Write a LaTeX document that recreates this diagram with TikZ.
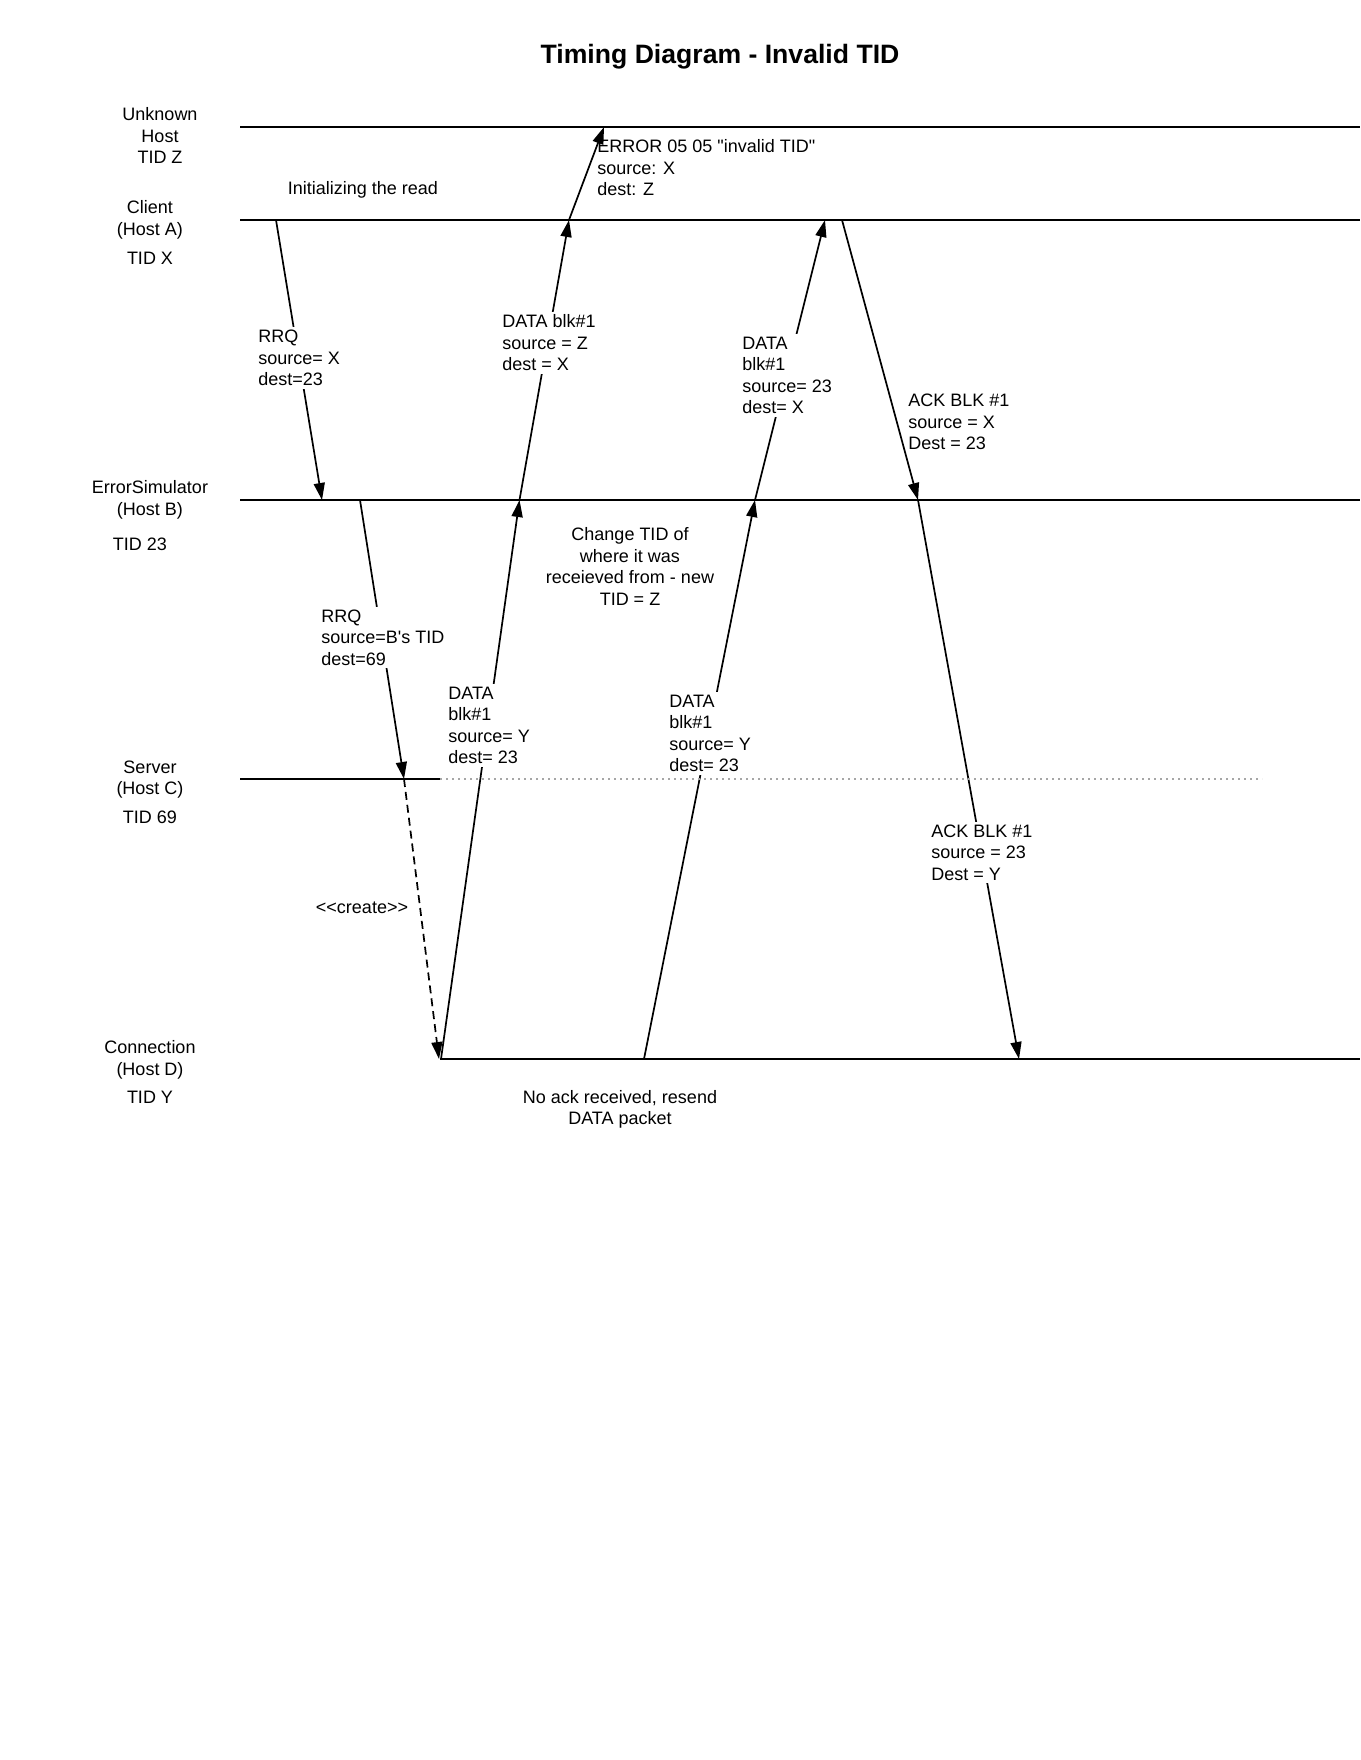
\documentclass[tikz,border=0pt]{standalone}
\usepackage{fontspec}
\setmainfont{Liberation Sans}[Ligatures=TeXOff]
\usetikzlibrary{arrows.meta, positioning}

\tikzset{
  lifeline/.style={line width=1pt},
  msg/.style={line width=0.85pt, -{Triangle[length=8.5pt, width=5.5pt]}},
  txt/.style={font=\fontsize{9}{10.7}\selectfont},
  lbl/.style={txt, align=left, anchor=north west, inner sep=1.5pt},
  cutlbl/.style={lbl, fill=white},
  hostlbl/.style={txt, align=center, anchor=north, inner sep=0pt},
}

\begin{document}
\begin{tikzpicture}[x=0.5pt, y=-0.5pt]
  \useasboundingbox (0,0) rectangle (1360,1760);

  % Title
  \node[font=\fontsize{13.3}{16}\selectfont\bfseries] (title) at (720,57) {Timing Diagram - Invalid TID};

  % Hosts
  \node[hostlbl] (unknown) at (160,107.5) {Unknown\\Host\\TID Z};
  \node[hostlbl] (client) at (150,200.5) {Client\\(Host A)};
  \node[hostlbl] (tidx) at (150,251.5) {TID X};
  \node[hostlbl] (errsim) at (150,480.5) {ErrorSimulator\\(Host B)};
  \node[hostlbl] (tid23) at (140,538) {TID 23};
  \node[hostlbl] (server) at (150,760.5) {Server\\(Host C)};
  \node[hostlbl] (tid69) at (150,811) {TID 69};
  \node[hostlbl] (conn) at (150,1040.5) {Connection\\(Host D)};
  \node[hostlbl] (tidy) at (150,1090.5) {TID Y};

  % Lifelines
  \coordinate (ul) at (240,127);  \coordinate (ur) at (1360,127);
  \coordinate (al) at (240,220);  \coordinate (ar) at (1360,220);
  \coordinate (bl) at (240,500);  \coordinate (br) at (1360,500);
  \coordinate (cl) at (240,779);  \coordinate (cm) at (440,779);
  \coordinate (cr) at (1262,779);
  \coordinate (dl) at (440,1059); \coordinate (dr) at (1360,1059);
  \draw[lifeline] (ul) -- (ur);
  \draw[lifeline] (al) -- (ar);
  \draw[lifeline] (bl) -- (br);
  \draw[lifeline] (cl) -- (cm);
  \draw[lifeline] (dl) -- (dr);

  % Message end points
  \coordinate (a1) at (276,220);
  \coordinate (b1) at (322,500);
  \coordinate (b2) at (360,500);
  \coordinate (c1) at (404,779);
  \coordinate (d1) at (439,1059);
  \coordinate (d2) at (441,1059);
  \coordinate (b3) at (519.5,500);
  \coordinate (a2) at (569,220);
  \coordinate (u1) at (604,127);
  \coordinate (d3) at (644,1059);
  \coordinate (b4) at (755,500);
  \coordinate (a3) at (825,220);
  \coordinate (a4) at (842,220);
  \coordinate (b5) at (918,500);
  \coordinate (d4) at (1019,1059);

  % Messages
  \draw[msg] (a1) -- (b1);
  \draw[msg] (b2) -- (c1);
  \draw[msg, dash pattern=on 4pt off 2.5pt] (c1) -- (d1);
  \draw[msg] (d2) -- (b3);
  \draw[msg] (b3) -- (a2);
  \draw[msg] (a2) -- (u1);
  \draw[msg] (d3) -- (b4);
  \draw[msg] (b4) -- (a3);
  \draw[msg] (a4) -- (b5);
  \draw[msg] (b5) -- (d4);

  % Message labels
  \node[cutlbl] (rrqa) at (255,327) {RRQ\\source= X\\dest=23};
  \node[cutlbl] (rrqb) at (318,606.5) {RRQ\\source=B's TID\\dest=69};
  \node[txt] (create) at (362,908) {<<create>>};
  \node[cutlbl] (datady) at (445,683.5) {DATA\\blk\#1\\source= Y\\dest= 23};
  \node[cutlbl] (dataz) at (499,311.5) {DATA blk\#1\\source = Z\\dest = X};
  \node[lbl] (error) at (594,136.5) {ERROR 05 05 "invalid TID"\\source: X\\dest: Z};
  \node[cutlbl] (dataresend) at (666,691.5) {DATA\\blk\#1\\source= Y\\dest= 23};
  \node[cutlbl] (datax) at (739,333.5) {DATA\\blk\#1\\source= 23\\dest= X};
  \node[lbl] (ackx) at (905,391) {ACK BLK \#1\\source = X\\Dest = 23};
  \node[cutlbl] (acky) at (928,821.5) {ACK BLK \#1\\source = 23\\Dest = Y};

  % Notes
  \node[txt] (init) at (363,190) {Initializing the read};
  \node[hostlbl] (change) at (630,527.5) {Change TID of\\where it was\\receieved from - new\\TID = Z};
  \node[hostlbl] (noack) at (620,1090) {No ack received, resend\\DATA packet};

  % Server lifeline (inactive part)
  \draw[gray!70, line width=0.6pt, dash pattern=on 1pt off 2pt] (cm) -- (cr);
\end{tikzpicture}
\end{document}
